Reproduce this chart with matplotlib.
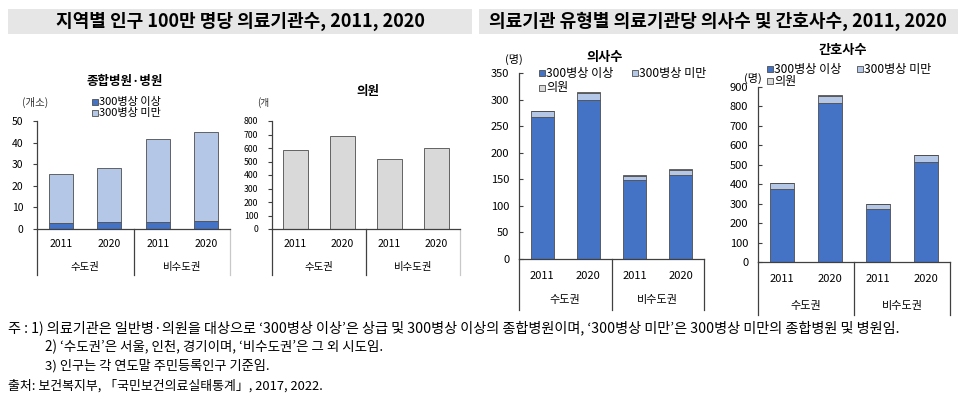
import numpy as np
import matplotlib
matplotlib.use("Agg")
import matplotlib.pyplot as plt
from matplotlib.patches import Rectangle
from matplotlib.transforms import blended_transform_factory

plt.rcParams['font.family'] = ['Noto Sans CJK KR', 'DejaVu Sans']
plt.rcParams['axes.unicode_minus'] = False

# 데이터
years = ['2011', '2020', '2011', '2020']
groups = ['수도권', '비수도권']

# 인구 100만 명당 종합병원·병원 (개소)
hosp_big = [2.8, 3.1, 3.4, 3.7]
hosp_small = [22.5, 25.0, 38.1, 41.2]
# 인구 100만 명당 의원 (개)
clinic = [583, 686, 521, 598]

# 의료기관당 의사수 (명)
doc_big = [268, 300, 148, 159]
doc_small = [10, 12, 8.7, 9.4]
doc_clinic = [1.3, 1.8, 0.7, 1.3]

# 의료기관당 간호사수 (명)
nurse_big = [378, 817, 271, 513]
nurse_small = [27, 38, 28, 35]
nurse_clinic = [3, 3.5, 1.5, 3.6]

c_big = '#4472C4'
c_small = '#B4C7E7'
c_clinic = '#D9D9D9'
edge = '#4d4d4d'
line_c = '#404040'

W, H = 966, 399
fig = plt.figure(figsize=(W / 100, H / 100), dpi=100)


def px_axes(left, top, right, bottom):
    return fig.add_axes([left / W, 1 - bottom / H, (right - left) / W, (bottom - top) / H])


# 전체 오버레이 (픽셀 좌표)
ov = fig.add_axes([0, 0, 1, 1], zorder=-1)
ov.set_xlim(0, W)
ov.set_ylim(H, 0)
ov.axis('off')

# 제목 박스
ov.add_patch(Rectangle((8, 9), 464, 25, color='#E6E6E6', lw=0))
ov.add_patch(Rectangle((479, 9), 479, 25, color='#E6E6E6', lw=0))
ov.text(240, 21.5, '지역별 인구 100만 명당 의료기관수, 2011, 2020', ha='center', va='center',
        fontsize=13, fontweight='bold')
ov.text(718, 21.5, '의료기관 유형별 의료기관당 의사수 및 간호사수, 2011, 2020', ha='center', va='center',
        fontsize=13, fontweight='bold')


def setup(ax, ymax, step, tsize, cat_bottom, yr_off, grp_off, ylab_size, tick_dir, right_c):
    ax.set_xlim(-0.5, 3.5)
    ax.set_ylim(0, ymax)
    ax.set_yticks(np.arange(0, ymax + step / 2, step))
    ax.set_xticks([])
    for s in ['top', 'right']:
        ax.spines[s].set_visible(False)
    for s in ['left', 'bottom']:
        ax.spines[s].set_color(line_c)
        ax.spines[s].set_linewidth(0.9)
    ax.tick_params(axis='y', labelsize=tsize, length=3, width=0.8, direction=tick_dir,
                   color=line_c, pad=7)
    ax.patch.set_alpha(0)
    tr = blended_transform_factory(ax.transData, ov.transData)
    y0 = ax.transData.transform((0, 0))[1]
    y0 = H - y0
    for x, c in [(-0.5, line_c), (1.5, line_c), (3.5, right_c)]:
        ax.plot([x, x], [y0, cat_bottom], transform=tr, color=c, lw=0.9, clip_on=False)
    for i, yr in enumerate(years):
        ax.text(i, y0 + yr_off, yr, transform=tr, ha='center', va='center', fontsize=ylab_size)
    for i, g in enumerate(groups):
        ax.text(0.5 + 2 * i, y0 + grp_off, g, transform=tr, ha='center', va='center', fontsize=ylab_size)


x = np.arange(4)

# 패널 1: 종합병원·병원
ax1 = px_axes(37, 121, 230, 229)
ax1.bar(x, hosp_big, width=0.5, color=c_big, edgecolor=edge, lw=0.6)
ax1.bar(x, hosp_small, width=0.5, bottom=hosp_big, color=c_small, edgecolor=edge, lw=0.6)
setup(ax1, 50, 10, 7.5, 275, 15, 38, 7.5, 'out', '#C8C8C8')

# 패널 2: 의원
ax2 = px_axes(272, 121, 460, 229)
ax2.bar(x, clinic, width=0.52, color=c_clinic, edgecolor=edge, lw=0.6)
setup(ax2, 800, 100, 6.3, 275, 15, 38, 7.5, 'out', '#C8C8C8')

# 패널 3: 의사수
ax3 = px_axes(519, 73, 704, 259)
b1 = np.array(doc_big)
b2 = b1 + np.array(doc_small)
ax3.bar(x, doc_big, width=0.5, color=c_big, edgecolor=edge, lw=0.6)
ax3.bar(x, doc_small, width=0.5, bottom=b1, color=c_small, edgecolor=edge, lw=0.6)
ax3.bar(x, doc_clinic, width=0.5, bottom=b2, color=c_clinic, edgecolor=edge, lw=0.6)
setup(ax3, 350, 50, 8, 310, 17, 41, 8, 'in', line_c)

# 패널 4: 간호사수
ax4 = px_axes(758, 87, 950, 262)
n1 = np.array(nurse_big)
n2 = n1 + np.array(nurse_small)
ax4.bar(x, nurse_big, width=0.48, color=c_big, edgecolor=edge, lw=0.6)
ax4.bar(x, nurse_small, width=0.48, bottom=n1, color=c_small, edgecolor=edge, lw=0.6)
ax4.bar(x, nurse_clinic, width=0.48, bottom=n2, color=c_clinic, edgecolor=edge, lw=0.6)
setup(ax4, 900, 100, 8, 315, 17, 44, 8, 'in', line_c)

# 패널 제목, 단위
ov.text(125, 82, '종합병원·병원', ha='center', va='center', fontsize=9, fontweight='bold')
ov.text(368, 92, '의원', ha='center', va='center', fontsize=9, fontweight='bold')
ov.text(605, 57, '의사수', ha='center', va='center', fontsize=9.5, fontweight='bold')
ov.text(843, 50, '간호사수', ha='center', va='center', fontsize=9.5, fontweight='bold')
ov.text(22, 102, '(개소)', ha='left', va='center', fontsize=7.5, color='#333333')
ov.text(257, 103, '(개', ha='left', va='center', fontsize=7, color='#333333')
ov.text(505, 59, '(명)', ha='left', va='center', fontsize=8)
ov.text(744, 78, '(명)', ha='left', va='center', fontsize=8)


def leg(xm, y, color, label, size, sq=6):
    ov.add_patch(Rectangle((xm, y - sq / 2), sq, sq, facecolor=color, edgecolor=edge, lw=0.6))
    ov.text(xm + sq + 1, y, label, ha='left', va='center', fontsize=size)


leg(92, 102, c_big, '300병상 이상', 8)
leg(92, 113, c_small, '300병상 미만', 8)

leg(539, 73, c_big, '300병상 이상', 8.7)
leg(632, 73, c_small, '300병상 미만', 8.7)
leg(539, 88, c_clinic, '의원', 8.7)

leg(767, 69, c_big, '300병상 이상', 8.7)
leg(857, 69, c_small, '300병상 미만', 8.7)
leg(767, 81, c_clinic, '의원', 8.7)

# 주석
ov.text(8, 328, '주 : 1) 의료기관은 일반병·의원을 대상으로 ‘300병상 이상’은 상급 및 300병상 이상의 종합병원이며, '
        '‘300병상 미만’은 300병상 미만의 종합병원 및 병원임.', ha='left', va='center', fontsize=10.2)
ov.text(45, 347, '2) ‘수도권’은 서울, 인천, 경기이며, ‘비수도권’은 그 외 시도임.', ha='left', va='center',
        fontsize=9.7)
ov.text(45, 366, '3) 인구는 각 연도말 주민등록인구 기준임.', ha='left', va='center', fontsize=9.5)
ov.text(8, 386, '출처: 보건복지부, 「국민보건의료실태통계」, 2017, 2022.', ha='left', va='center',
        fontsize=9.3)

fig.savefig('out.png', dpi=100)
